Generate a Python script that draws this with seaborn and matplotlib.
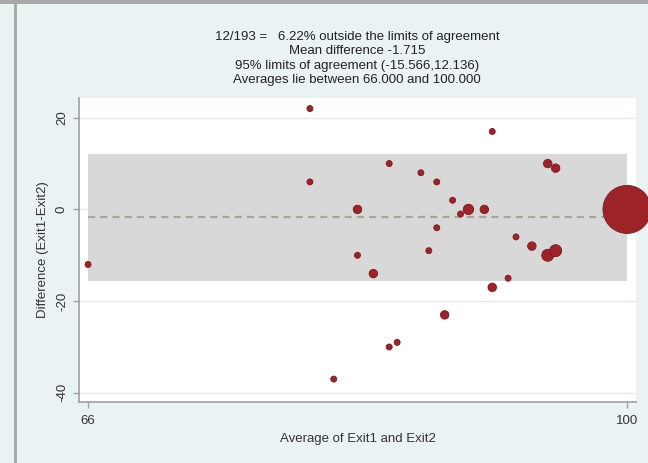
import matplotlib
matplotlib.use("Agg")
import matplotlib.pyplot as plt
import pandas as pd
import seaborn as sns
from matplotlib.patches import Rectangle
from matplotlib.lines import Line2D

# Bland-Altman data: average of the two exits, their difference, and how many
# observations share each (average, difference) pair
average = [66, 80, 80, 81.5, 83, 83, 84, 85, 85, 85.5, 87, 87.5, 88, 88, 88.5,
           89, 89.5, 90, 91, 91.5, 91.5, 92.5, 93, 94, 95, 95, 95.5, 95.5, 100]
difference = [-12, 22, 6, -37, 0, -10, -14, 10, -30, -29, 8, -9, 6, -4, -23,
              2, -1, 0, 0, 17, -17, -15, -6, -8, 10, -10, 9, -9, 0]
frequency = [1, 1, 1, 1, 2, 1, 2, 1, 1, 1, 1, 1, 1, 1, 2,
             1, 1, 3, 2, 1, 2, 1, 1, 2, 2, 4, 2, 4, 64]

mean_diff = -1.715
loa_low, loa_high = -15.566, 12.136
n_outside, n_total = 12, 193
avg_min, avg_max = 66.0, 100.0
x_ticks = [66, 100]
y_ticks = [-40, -20, 0, 20]

df = pd.DataFrame({"avg": average, "diff": difference, "freq": frequency})

sns.set_theme(style="white")
plt.rcParams["font.family"] = ["Liberation Sans", "DejaVu Sans"]

bg = "#eaf2f3"
W, H = 648, 463
fig = plt.figure(figsize=(W / 100, H / 100), dpi=100, facecolor=bg)

# window frame around the graph
fig.add_artist(Rectangle((0, 1 - 4 / H), 1, 4 / H, transform=fig.transFigure,
                         facecolor="#a9a9a9", edgecolor="none"))
fig.add_artist(Line2D([15 / W, 15 / W], [0, 1 - 4 / H], transform=fig.transFigure,
                      color="#a4a4a4", lw=2))

ax = fig.add_axes([79 / W, 61 / H, 557 / W, 304 / H])
ax.set_facecolor("white")

# limits of agreement band and mean difference
ax.fill_between([avg_min, avg_max], loa_low, loa_high, color="#d8d8d8",
                lw=0, zorder=1)
ax.plot([avg_min, avg_max], [mean_diff, mean_diff], color="#a3a897", lw=1.6,
        linestyle=(0, (3.2, 2.3)), zorder=2)

sns.scatterplot(data=df, x="avg", y="diff", size="freq", sizes=(0, 1195),
                size_norm=(0, 64), color="#9e2328", edgecolor="#7a1a1e",
                linewidth=0.6, legend=False, ax=ax, zorder=3, clip_on=False)

ax.set_xlim(65.43, 100.57)
ax.set_ylim(-42.0, 24.3)
ax.set_xticks(x_ticks)
ax.set_xticklabels([str(t) for t in x_ticks])
ax.set_yticks(y_ticks)
ax.set_yticklabels([str(t) for t in y_ticks], rotation=90, va="center")

ax.yaxis.grid(True, color="#eaeaea", lw=1)
ax.set_axisbelow(True)

for side in ("top", "right"):
    ax.spines[side].set_visible(False)
for side in ("left", "bottom"):
    ax.spines[side].set_color("#a0a0a0")
    ax.spines[side].set_linewidth(1.2)

ax.tick_params(axis="both", direction="out", length=4, width=1,
               color="#a0a0a0", labelsize=9.5, labelcolor="#333333",
               bottom=True, left=True)
ax.tick_params(axis="y", pad=4)
ax.tick_params(axis="x", pad=5)

ax.set_xlabel("Average of Exit1 and Exit2", fontsize=9.5, color="#333333",
              labelpad=5)
ax.set_ylabel("Difference (Exit1-Exit2)", fontsize=9.5, color="#333333",
              labelpad=5)

pct = 100 * n_outside / n_total
lines = [
    f"{n_outside}/{n_total} =   {pct:.2f}% outside the limits of agreement",
    f"Mean difference {mean_diff:.3f}",
    f"95% limits of agreement ({loa_low:.3f},{loa_high:.3f})",
    f"Averages lie between {avg_min:.3f} and {avg_max:.3f}",
]
for i, txt in enumerate(lines):
    fig.text(357 / W, 1 - (37 + 14.5 * i) / H, txt, ha="center", va="center",
             fontsize=9.5, color="#222222")

fig.savefig("out.png", dpi=100, facecolor=bg)
